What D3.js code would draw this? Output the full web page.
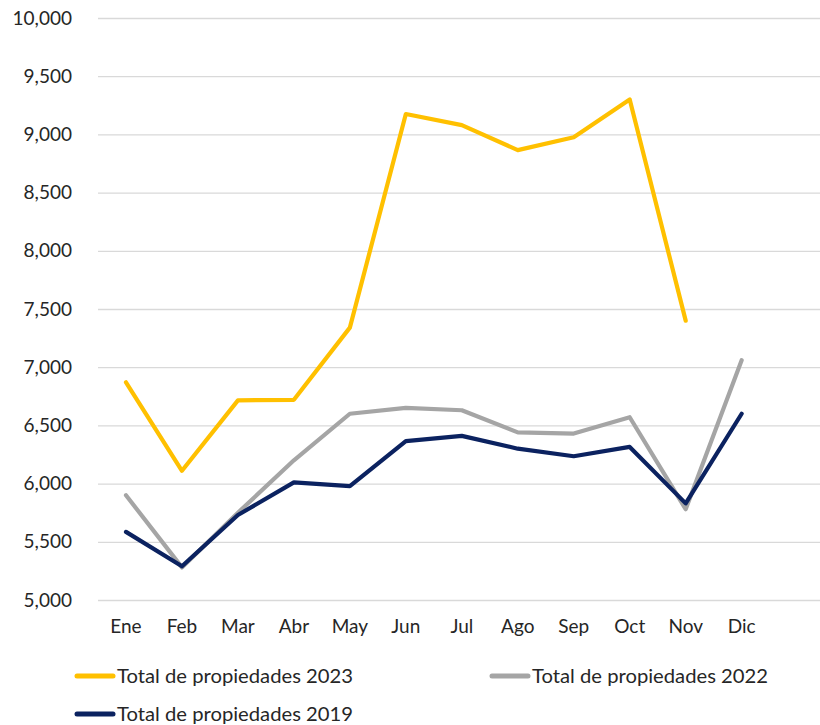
<!DOCTYPE html>
<html>
<head>
<meta charset="utf-8">
<script src="https://cdn.jsdelivr.net/npm/d3@7"></script>
<style>
  html, body { margin: 0; padding: 0; background: #fff; }
  svg text { font-family: Lato, "Open Sans", sans-serif; fill: #262626; }
</style>
</head>
<body>
<svg id="chart" width="820" height="725"></svg>
<script>
const months = ["Ene","Feb","Mar","Abr","May","Jun","Jul","Ago","Sep","Oct","Nov","Dic"];
const values2023 = [6870, 6110, 6715, 6720, 7340, 9175, 9080, 8865, 8975, 9300, 7400, null];
const values2022 = [5900, 5280, 5750, 6200, 6600, 6650, 6630, 6440, 6430, 6570, 5780, 7060];
const values2019 = [5585, 5290, 5730, 6010, 5978, 6365, 6410, 6300, 6235, 6315, 5830, 6600];
const seriesNames = ["Total de propiedades 2023", "Total de propiedades 2022", "Total de propiedades 2019"];
const seriesColors = ["#FFC000", "#A5A5A5", "#0B2260"];
const yTicks = [5000, 5500, 6000, 6500, 7000, 7500, 8000, 8500, 9000, 9500, 10000];

const svg = d3.select("#chart");
const plotLeft = 98, plotRight = 820, plotTop = 18, plotBottom = 600;
const step = 55.97;

const x = d3.scaleBand().domain(months).range([plotLeft, plotLeft + step * months.length]);
const y = d3.scaleLinear().domain([5000, 10000]).range([plotBottom, plotTop]);

// gridlines
const yAxis = d3.axisLeft(y).tickValues(yTicks).tickFormat(d3.format(",")).tickSize(-(plotRight - plotLeft)).tickPadding(26);
const gy = svg.append("g").attr("transform", `translate(${plotLeft},0)`).call(yAxis);
gy.select(".domain").remove();
gy.selectAll(".tick line").attr("stroke", "#D9D9D9").attr("stroke-width", 1.3);
gy.selectAll(".tick text").attr("font-size", 19).attr("fill", "#262626");

const xAxis = d3.axisBottom(x).tickSize(0).tickPadding(20);
const gx = svg.append("g").attr("transform", `translate(0,${plotBottom})`).call(xAxis);
gx.select(".domain").remove();
gx.selectAll(".tick text").attr("font-size", 19).attr("fill", "#262626");

const seriesData = [values2023, values2022, values2019];
const line = d3.line()
  .defined(d => d.v != null)
  .x(d => x(d.m) + x.bandwidth() / 2)
  .y(d => y(d.v));

// draw 2019 under? Order: 2023 top; navy appears above gray
const drawOrder = [1, 2, 0];
drawOrder.forEach(i => {
  const data = months.map((m, j) => ({ m, v: seriesData[i][j] }));
  svg.append("path")
    .datum(data)
    .attr("fill", "none")
    .attr("stroke", seriesColors[i])
    .attr("stroke-width", 4.2)
    .attr("stroke-linejoin", "round")
    .attr("stroke-linecap", "round")
    .attr("d", line);
});

// legend
const legendItems = [
  { name: seriesNames[0], color: seriesColors[0], x: 75, y: 676 },
  { name: seriesNames[1], color: seriesColors[1], x: 490, y: 676 },
  { name: seriesNames[2], color: seriesColors[2], x: 75, y: 714 }
];
const lg = svg.append("g");
legendItems.forEach(it => {
  lg.append("line")
    .attr("x1", it.x + 2).attr("x2", it.x + 38)
    .attr("y1", it.y).attr("y2", it.y)
    .attr("stroke", it.color).attr("stroke-width", 5).attr("stroke-linecap", "round");
  lg.append("text")
    .attr("x", it.x + 42).attr("y", it.y + 7)
    .attr("font-size", 19)
    .attr("textLength", 236)
    .attr("lengthAdjust", "spacingAndGlyphs")
    .text(it.name);
});
</script>
</body>
</html>
